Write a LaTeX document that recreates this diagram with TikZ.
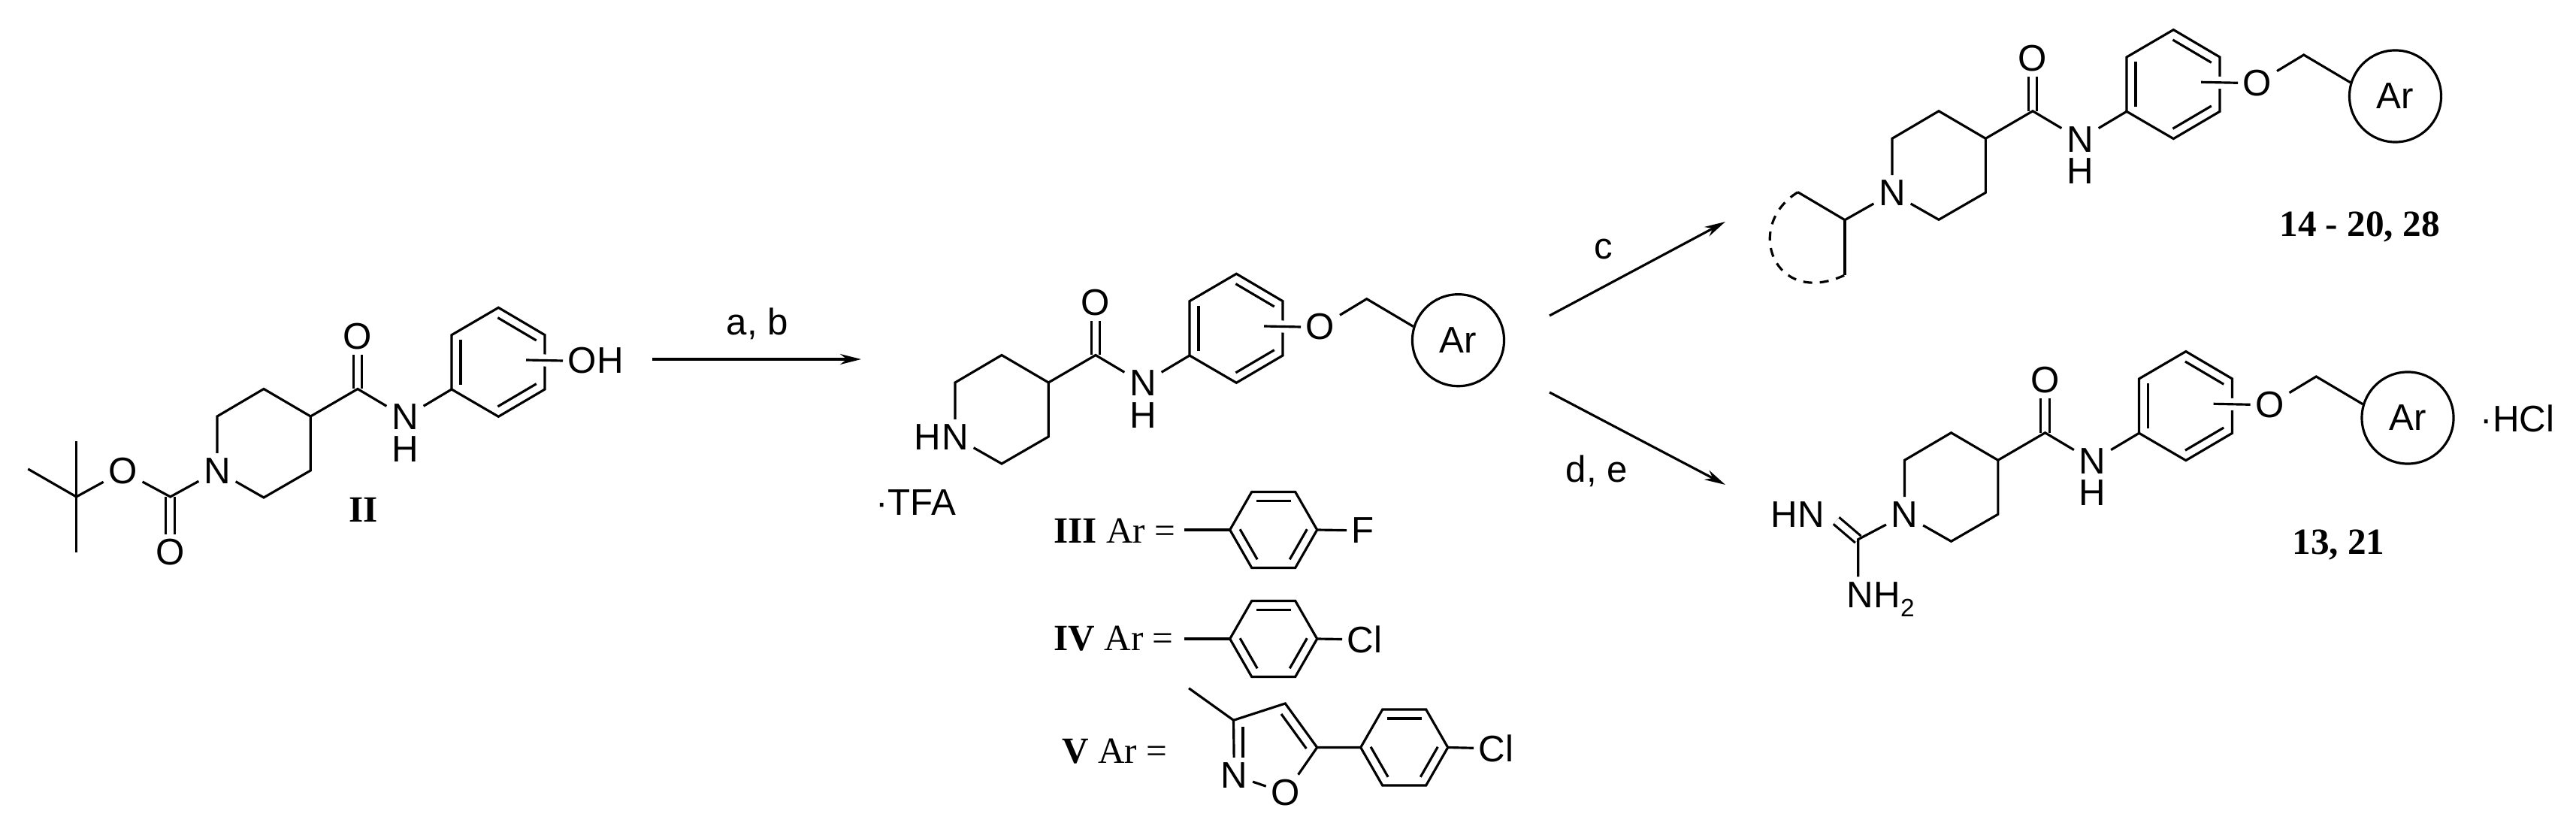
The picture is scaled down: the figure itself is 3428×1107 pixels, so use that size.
\documentclass[tikz,border=0pt]{standalone}
\usepackage{fontspec}
\setmainfont{Liberation Serif}
\setsansfont{Liberation Sans}
\usetikzlibrary{positioning,calc,arrows.meta}
\tikzset{
	atom/.style={font=\sffamily\fontsize{14}{14}\selectfont, inner sep=1.5pt},
	plain label/.style={font=\rmfamily\fontsize{14}{14}\selectfont, inner sep=0pt},
	ar ring/.style={circle, draw, minimum size=1.22cm, inner sep=0pt, font=\sffamily\fontsize{14}{14}\selectfont},
	twin/.style={double, double distance=0.085cm},
	halo/.style={preaction={draw=white, line width=0.16cm}},
	inner bond/.style={shorten >=0.06cm, shorten <=0.06cm},
}
\newcommand{\innerbond}[2]{\draw[inner bond] ($(#1)!0.12cm!-90:(#2)$) -- ($(#2)!0.12cm!90:(#1)$);}
\newcommand{\scaffold}[4]{
	\begin{scope}[shift={(#2,#3)}]
		\coordinate (#1r1) at (1271,509);
		\coordinate (#1r2) at (1333,472.5);
		\coordinate (#1r3) at (1395.3,509);
		\coordinate (#1r4) at (1395.3,581);
		\coordinate (#1r5) at (1333,617);
		\coordinate (#1co) at (1458,472.5);
		\coordinate (#1p1) at (1583,473);
		\coordinate (#1p2) at (1583,400.7);
		\coordinate (#1p3) at (1645.3,364.3);
		\coordinate (#1p4) at (1707,400.7);
		\coordinate (#1p5) at (1707,473);
		\coordinate (#1p6) at (1645.3,509.3);
		\coordinate (#1st) at (1682,434);
		\node[atom] (#1n) at (1271,581.7) {N};
		\node[atom] (#1oc) at (1458,402.7) {O};
		\node[atom] (#1nh) at (1521,510) {N};
		\node[atom, below=-1.4pt of #1nh] (#1h) {H};
		\node[atom, anchor=west] (#1o) at (1731,435) {#4};
		\draw[twin] (#1oc) -- (#1co);
		\draw (#1n) -- (#1r1) -- (#1r2) -- (#1r3) -- (#1r4) -- (#1r5) -- (#1n);
		\draw (#1r3) -- (#1co) -- (#1nh) -- (#1p1);
		\draw (#1p1) -- (#1p2) -- (#1p3) -- (#1p4) -- (#1p5) -- (#1p6) -- cycle;
		\innerbond{#1p1}{#1p2}
		\innerbond{#1p3}{#1p4}
		\innerbond{#1p5}{#1p6}
		\draw[halo] (#1st) -- (#1o.west);
	\end{scope}
}
\newcommand{\artail}[3]{
	\begin{scope}[shift={(#2,#3)}]
		\coordinate (#1ch) at (1818.7,397.7);
		\node[ar ring] (#1ar) at (1940.5,452.7) {Ar};
		\draw (#1o) -- (#1ch) -- (#1ar.163);
	\end{scope}
}
\newcommand{\phenyl}[3]{
	\begin{scope}[shift={(#2,#3)}]
		\coordinate (#1a) at (-58,0);
		\coordinate (#1b) at (-29,-50.5);
		\coordinate (#1c) at (29,-50.5);
		\coordinate (#1d) at (58,0);
		\coordinate (#1e) at (29,50.5);
		\coordinate (#1f) at (-29,50.5);
		\draw (#1a) -- (#1b) -- (#1c) -- (#1d) -- (#1e) -- (#1f) -- cycle;
		\innerbond{#1b}{#1c}
		\innerbond{#1d}{#1e}
		\innerbond{#1f}{#1a}
	\end{scope}
}
\begin{document}
\begin{tikzpicture}[x=0.01cm, y=-0.01cm, line width=0.9pt, >={Stealth[length=0.28cm, width=0.14cm]}]
	\useasboundingbox (0,0) rectangle (3428,1107);
	% starting material
	\scaffold{s}{-982}{45}{OH}
	\node[atom] (sob) at (163.6,627) {O};
	\node[atom] (sod) at (226.7,735) {O};
	\coordinate (sc) at (226.7,661);
	\coordinate (stb) at (101.6,661);
	\coordinate (sm1) at (101.6,587.3);
	\coordinate (sm2) at (37.3,624);
	\coordinate (sm3) at (101.6,735);
	\draw[twin] (sod) -- (sc);
	\draw (sn) -- (sc) -- (sob) -- (stb);
	\draw (sm1) -- (sm3);
	\draw (sm2) -- (stb);
	\node[plain label, anchor=base] (lII) at (484,695) {\textbf{II}};
	% middle
	\scaffold{i}{0}{0}{O}
	\artail{i}{0}{0}
	\node[atom, left=-3.5pt of in] (ih) {H};
	\node[atom] (tfa) at (1218.5,669) {·TFA};
	\node[plain label, anchor=base west] (lIII) at (1401,723) {\textbf{III} Ar =};
	\node[plain label, anchor=base west] (lIV) at (1401,865) {\textbf{IV} Ar =};
	\node[plain label, anchor=base west] (lV) at (1411.6,1015) {\textbf{V} Ar =};
	\phenyl{f}{1694.7}{705}
	\coordinate (f0) at (1576,705);
	\node[atom, anchor=west] (fx) at (1792,706) {F};
	\draw (f0) -- (fa);
	\draw (fd) -- (fx);
	\phenyl{c}{1694.7}{850}
	\coordinate (c0) at (1576,850);
	\node[atom, anchor=west] (cx) at (1786,851) {Cl};
	\draw (c0) -- (ca);
	\draw (cd) -- (cx);
	\phenyl{d}{1868.7}{994.5}
	\node[atom, anchor=west] (dx) at (1961,996) {Cl};
	\draw (dd) -- (dx);
	\coordinate (vm) at (1582,915.7);
	\coordinate (v3) at (1641.5,958.3);
	\coordinate (v4) at (1710.3,936);
	\coordinate (v5) at (1752.7,994.5);
	\coordinate (v3i) at (1654,966.7);
	\coordinate (vni) at (1654,1008.3);
	\coordinate (v4i) at (1705,950);
	\coordinate (v5i) at (1738.4,996);
	\node[atom] (vn) at (1642.4,1031.7) {N};
	\node[atom] (vo) at (1710.7,1055) {O};
	\draw (vm) -- (v3) -- (v4) -- (v5) -- (da);
	\draw (v3) -- (vn) -- (vo) -- (v5);
	\draw (v3i) -- (vni);
	\draw (v4i) -- (v5i);
	% upper product
	\scaffold{a}{1247}{-324.7}{O}
	\artail{a}{1247}{-324.7}
	\coordinate (ach) at (2455,292.7);
	\coordinate (am1) at (2392.5,255.7);
	\coordinate (am2) at (2455,366);
	\draw (an) -- (ach) -- (am1);
	\draw (ach) -- (am2);
	\draw[dash pattern=on 0.12cm off 0.1cm] (am1) .. controls (2320,300) and (2360,410) .. (am2);
	\node[plain label, anchor=base] (lA) at (3140,315) {\textbf{14 - 20, 28}};
	% lower product
	\scaffold{b}{1263.5}{103.3}{O}
	\artail{b}{1263.5}{103.3}
	\coordinate (gc) at (2472.7,717.7);
	\node[atom] (ghn) at (2392,685) {HN};
	\node[atom, anchor=base west] (gnh) at (2451,808) {NH\raisebox{-0.25em}{\fontsize{9.5}{9.5}\selectfont 2}};
	\draw[twin, shorten <=0.12cm] (ghn.east) -- (gc);
	\draw (bn) -- (gc) -- (gc |- gnh.north);
	\node[atom] (hcl) at (3350,556.7) {·HCl};
	\node[plain label, anchor=base] (lB) at (3112,738) {\textbf{13, 21}};
	% arrows
	\coordinate (a1) at (868,478);
	\coordinate (a2) at (1146,478);
	\coordinate (c1) at (2062,420);
	\coordinate (c2) at (2296,295);
	\coordinate (d1) at (2062,522);
	\coordinate (d2) at (2296,645);
	\draw[->] (a1) -- (a2);
	\draw[->] (c1) -- (c2);
	\draw[->] (d1) -- (d2);
	\node[atom] (lab) at (1008,431) {a, b};
	\node[atom] (lc) at (2134,332) {c};
	\node[atom] (lde) at (2125,627) {d, e};
\end{tikzpicture}
\end{document}
